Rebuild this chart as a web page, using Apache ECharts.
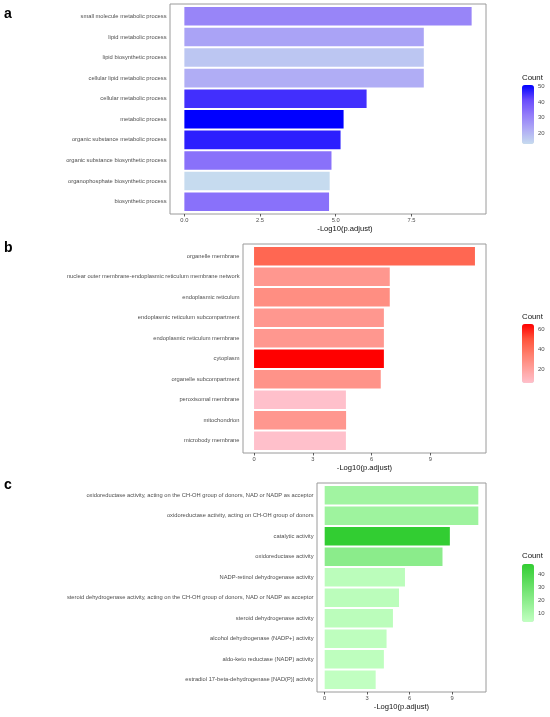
<!DOCTYPE html>
<html>
<head>
<meta charset="utf-8">
<script src="https://cdn.jsdelivr.net/npm/echarts@6/dist/echarts.min.js"></script>
<style>
  html, body { margin: 0; padding: 0; background: #fff; }
  #chart { width: 550px; height: 717px; }
</style>
</head>
<body>
<div id="chart"></div>
<script>
// panel a - biological process
var termsA = ['small molecule metabolic process', 'lipid metabolic process', 'lipid biosynthetic process',
    'cellular lipid metabolic process', 'cellular metabolic process', 'metabolic process',
    'organic substance metabolic process', 'organic substance biosynthetic process',
    'organophosphate biosynthetic process', 'biosynthetic process'];
var pA = [9.49, 7.91, 7.91, 7.91, 6.02, 5.26, 5.16, 4.86, 4.80, 4.78];
var countA = [30, 24, 17, 22, 45, 51, 47, 34, 13, 34];
var xTicksA = [0, 2.5, 5, 7.5];
var legendTicksA = [20, 30, 40, 50];

// panel b - cellular component
var termsB = ['organelle membrane', 'nuclear outer membrane-endoplasmic reticulum membrane network',
    'endoplasmic reticulum', 'endoplasmic reticulum subcompartment', 'endoplasmic reticulum membrane',
    'cytoplasm', 'organelle subcompartment', 'peroxisomal membrane', 'mitochondrion', 'microbody membrane'];
var pB = [11.28, 6.93, 6.93, 6.63, 6.63, 6.63, 6.47, 4.69, 4.70, 4.69];
var countB = [43, 24, 28, 24, 24, 65, 26, 6, 24, 6];
var xTicksB = [0, 3, 6, 9];
var legendTicksB = [20, 40, 60];

// panel c - molecular function
var termsC = ['oxidoreductase activity, acting on the CH-OH group of donors, NAD or NADP as acceptor',
    'oxidoreductase activity, acting on CH-OH group of donors', 'catalytic activity',
    'oxidoreductase activity', 'NADP-retinol dehydrogenase activity',
    'steroid dehydrogenase activity, acting on the CH-OH group of donors, NAD or NADP as acceptor',
    'steroid dehydrogenase activity', 'alcohol dehydrogenase (NADP+) activity',
    'aldo-keto reductase (NADP) activity', 'estradiol 17-beta-dehydrogenase [NAD(P)] activity'];
var pC = [10.85, 10.85, 8.84, 8.32, 5.67, 5.25, 4.82, 4.37, 4.18, 3.60];
var countC = [13, 14, 48, 20, 5, 5, 5, 4, 4, 3];
var xTicksC = [0, 3, 6, 9];
var legendTicksC = [10, 20, 30, 40];

var FONT = 'Liberation Sans, Arial, Helvetica, sans-serif';

var panels = [
    { label: 'a', terms: termsA, p: pA, count: countA, ticks: xTicksA, dec: 1, legendTicks: legendTicksA,
      colors: ['#C6DBEF', '#AFAAF5', '#927BF9', '#694AFC', '#0000FF'],
      box: { left: 170, top: 4, width: 316, height: 210 }, legendTop: 85, legendHeight: 59,
      labelTop: 7, countTop: 74, titlePad: 34 },
    { label: 'b', terms: termsB, p: pB, count: countB, ticks: xTicksB, dec: 0, legendTicks: legendTicksB,
      colors: ['#FFC0CB', '#FF9F9A', '#FF7C6A', '#FF533B', '#FF0000'],
      box: { left: 243, top: 244, width: 243, height: 209 }, legendTop: 324, legendHeight: 59,
      labelTop: 241, countTop: 313, titlePad: 0 },
    { label: 'c', terms: termsC, p: pC, count: countC, ticks: xTicksC, dec: 0, legendTicks: legendTicksC,
      colors: ['#C1FFC1', '#32CD32'],
      box: { left: 317, top: 483, width: 169, height: 209 }, legendTop: 564, legendHeight: 58,
      labelTop: 478, countTop: 552, titlePad: 0 }
];

var grids = [], xAxes = [], yAxes = [], series = [], visualMaps = [], titles = [];

panels.forEach(function (pn, i) {
    var maxV = Math.max.apply(null, pn.p);
    var xmin = -0.05 * maxV, xmax = 1.05 * maxV;
    var u = pn.box.height / 10.2;
    var gb = i * 3, gd = i * 3 + 1, gl = i * 3 + 2;

    // panel border + x axis
    grids.push({ left: pn.box.left, top: pn.box.top, width: pn.box.width, height: pn.box.height,
        show: true, borderColor: '#9a9a9a', borderWidth: 1, backgroundColor: '#fff',
        containLabel: false, outerBoundsMode: 'none' });
    // bars, inset like ggplot's discrete expansion
    grids.push({ left: pn.box.left, top: pn.box.top + 0.1 * u, width: pn.box.width, height: 10 * u,
        containLabel: false, outerBoundsMode: 'none' });
    // colour bar ticks
    grids.push({ left: 522, top: pn.legendTop, width: 12, height: pn.legendHeight,
        containLabel: false, outerBoundsMode: 'none' });

    xAxes.push({
        gridIndex: gb, type: 'value', min: xmin, max: xmax,
        axisLine: { show: false },
        splitLine: { show: false },
        axisTick: { customValues: pn.ticks, length: 2.5, lineStyle: { color: '#333', width: 0.8 } },
        axisLabel: { customValues: pn.ticks, margin: 3, fontSize: 5.75, color: '#4d4d4d', fontFamily: FONT,
            formatter: function (v) { return v.toFixed(pn.dec); } },
        name: '-Log10(p.adjust)', nameLocation: 'middle', nameGap: 11,
        nameTextStyle: { fontSize: 7.6, color: '#111', fontFamily: FONT, padding: [0, 0, 0, pn.titlePad] }
    });
    yAxes.push({ gridIndex: gb, type: 'value', min: 0, max: 1, show: false });

    xAxes.push({ gridIndex: gd, type: 'value', min: xmin, max: xmax, show: false });
    yAxes.push({
        gridIndex: gd, type: 'category', data: pn.terms, inverse: true,
        axisLine: { show: false },
        axisTick: { alignWithLabel: true, length: 2.5, lineStyle: { color: '#333', width: 0.8 } },
        axisLabel: { interval: 0, margin: 3.5, fontSize: 5.75, color: '#4d4d4d', fontFamily: FONT }
    });

    var cmin = Math.min.apply(null, pn.count), cmax = Math.max.apply(null, pn.count);
    xAxes.push({ gridIndex: gl, type: 'value', min: 0, max: 1, show: false });
    yAxes.push({
        gridIndex: gl, type: 'value', min: cmin, max: cmax, position: 'right',
        axisLine: { show: false }, axisTick: { show: false }, splitLine: { show: false },
        axisLabel: { customValues: pn.legendTicks, margin: 4, fontSize: 6, color: '#4d4d4d', fontFamily: FONT }
    });

    series.push({
        type: 'bar', xAxisIndex: gd, yAxisIndex: gd,
        barWidth: '90%',
        encode: { x: 0, y: 1 },
        data: pn.terms.map(function (t, k) { return [pn.p[k], t, pn.count[k]]; })
    });

    visualMaps.push({
        type: 'continuous', seriesIndex: i, dimension: 2,
        min: cmin, max: cmax, calculable: false, hoverLink: false,
        left: 522, top: pn.legendTop, itemWidth: 12, itemHeight: pn.legendHeight, padding: 0,
        inRange: { color: pn.colors }
    });

    titles.push({ text: pn.label, left: 4, top: pn.labelTop, padding: 0,
        textStyle: { fontSize: 14, fontWeight: 'bold', color: '#000', fontFamily: FONT } });
    titles.push({ text: 'Count', left: 522, top: pn.countTop, padding: 0,
        textStyle: { fontSize: 7.8, fontWeight: 'normal', color: '#111', fontFamily: FONT } });
});

var chart = echarts.init(document.getElementById('chart'));
chart.setOption({
    animation: false,
    backgroundColor: '#fff',
    textStyle: { fontFamily: FONT },
    title: titles,
    grid: grids,
    xAxis: xAxes,
    yAxis: yAxes,
    visualMap: visualMaps,
    series: series
});
</script>
</body>
</html>
